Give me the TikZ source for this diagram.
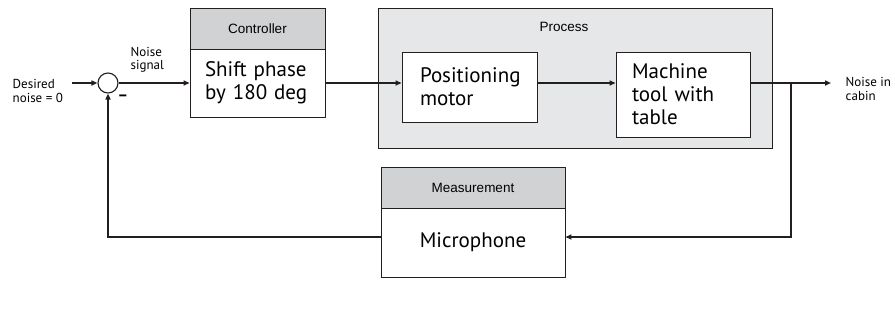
\documentclass[tikz,border=0pt]{standalone}
\usepackage{fontspec}
\setmainfont{PT Sans}
\newfontfamily\hdrfont{Liberation Sans}
\usetikzlibrary{arrows.meta}
\definecolor{hdrgray}{RGB}{209,210,212}
\definecolor{procgray}{RGB}{230,231,232}
\definecolor{linecol}{RGB}{35,31,32}
\begin{document}
\begin{tikzpicture}[x=1pt,y=-1pt,
  line width=1.4pt,
  conn/.style={draw=linecol,line width=1.6pt},
  arr/.style={conn,-{Triangle[length=6pt,width=5pt]}},
  hdr/.style={draw=linecol,line width=0.9pt,fill=hdrgray,minimum height=41pt,inner sep=0pt,font=\hdrfont\fontsize{13.5}{15}\selectfont},
  body/.style={draw=linecol,line width=0.9pt,fill=white,font=\fontsize{21}{23}\selectfont,align=left,inner ysep=0pt},
  small/.style={font=\fontsize{13}{13.5}\selectfont,align=left,inner sep=0pt},
  sumj/.style={circle,draw=linecol,line width=1.1pt,fill=white,minimum size=20pt,inner sep=0pt}]
\useasboundingbox (0,0) rectangle (895,335);
% process background
\node[draw=linecol,line width=0.9pt,fill=procgray,minimum width=394pt,minimum height=140pt,inner sep=0pt] (proc) at (575,78) {};
\node[font=\hdrfont\fontsize{13.5}{15}\selectfont,inner sep=0pt] (proclbl) at (564,27) {Process};
% summing junction
\node[sumj] (sum) at (108,83) {};
\node[small,anchor=west] (des) at (12,91) {Desired\\noise = 0};
\coordinate (desend) at (72,83);
\node[small,anchor=west] (nsig) at (130,60) {Noise\\signal};
\node[font=\bfseries\fontsize{16}{16}\selectfont,inner sep=0pt] (minus) at (123,98) {--};
% controller
\node[hdr,minimum width=135pt] (ctrlh) at (257.5,28.5) {Controller};
\node[body,minimum height=68pt,text width=105pt,inner xsep=15pt] (ctrl) at (257.5,83) {Shift phase\\by 180 deg};
% process blocks
\node[body,minimum height=70pt,text width=99pt,inner xsep=18pt] (pos) at (469.5,87) {Positioning\\motor};
\node[body,minimum height=85pt,text width=102pt,inner xsep=16pt] (mach) at (683,94.5) {Machine\\tool with\\table};
% measurement
\node[hdr,minimum width=184pt] (meash) at (473,187.5) {Measurement};
\node[body,minimum height=69pt,minimum width=184pt,align=center] (mic) at (473,242.5) {Microphone};
% output
\coordinate (br) at (791,83);
\coordinate (outend) at (831,83);
\node[small,anchor=west] (out) at (845,89) {Noise in\\cabin};
% connectors
\draw[arr] (desend) -- (sum.west);
\draw[arr] (sum.east) -- (ctrl.west |- sum.east);
\draw[arr] (ctrl.east |- sum.east) -- (pos.west |- sum.east);
\draw[arr] (pos.east |- sum.east) -- (mach.west |- sum.east);
\draw[arr] (mach.east |- br) -- (outend);
\draw[arr] (br) -- (br |- 0,237) -- (mic.east |- 0,237);
\draw[arr] (mic.west |- 0,237) -- (sum.south |- 0,237) -- (sum.south);
\end{tikzpicture}
\end{document}
